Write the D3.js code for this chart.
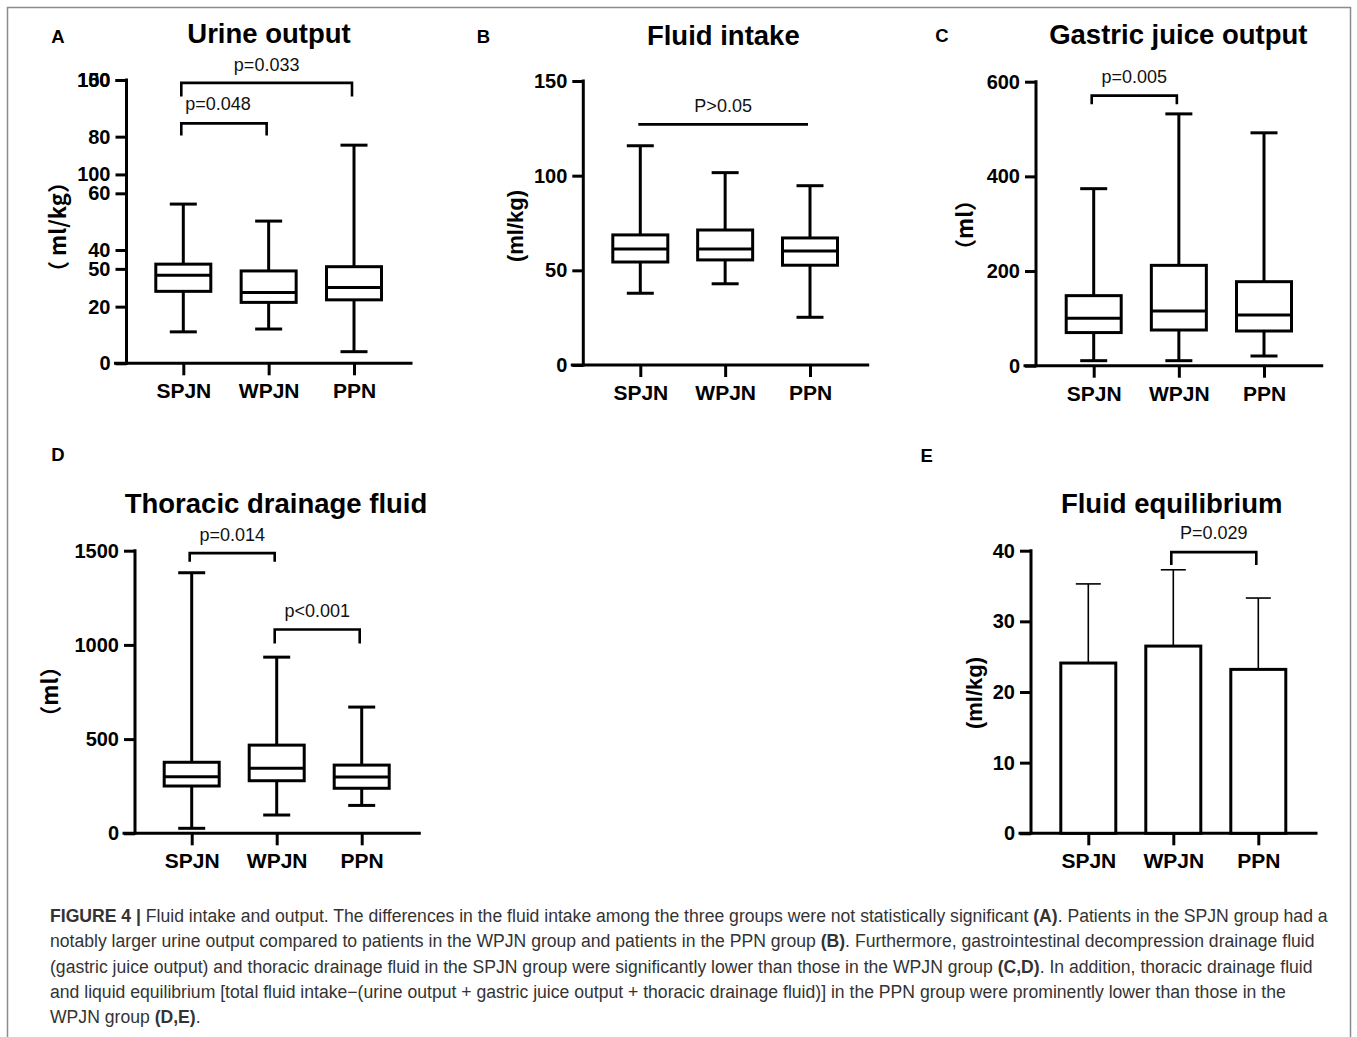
<!DOCTYPE html>
<html><head><meta charset="utf-8">
<script src="https://cdn.jsdelivr.net/npm/d3@7"></script>
<style>
html,body{margin:0;padding:0;background:#fff;}
svg{display:block;}
</style></head>
<body>
<svg id="fig" width="1357" height="1037"></svg>
<script>
// ---------------- DATA ----------------
const groups = ["SPJN", "WPJN", "PPN"];
// five-number summaries per group: [whisker low, Q1, median, Q3, whisker high]
const urineOutput   = [[11.1, 25.4, 31.1, 35.0, 56.2], [12.1, 21.5, 25.0, 32.6, 50.2], [4.1, 22.4, 26.8, 34.1, 77.0]];
const fluidIntake   = [[37.9, 54.4, 61.3, 68.7, 115.8], [42.9, 55.5, 61.3, 71.3, 101.6], [25.2, 52.7, 60.2, 67.1, 94.7]];
const gastricJuice  = [[10.6, 70, 100, 148, 374], [10.6, 75.4, 115.6, 212, 532], [20.5, 73.3, 107, 177.5, 492]];
const thoracicFluid = [[26.5, 251, 300, 377, 1383], [97, 279, 345, 468, 935], [148, 239, 299, 362, 670]];
// fluid equilibrium: mean and mean + SD
const equilibriumMean  = [24.1, 26.5, 23.2];
const equilibriumUpper = [35.3, 37.3, 33.3];
// tick labels
const urineTicksA = [0, 20, 40, 60, 80, 100];
const urineTicksB = [50, 100, 150];
const intakeTicks = [0, 50, 100, 150];
const gastricTicks = [0, 200, 400, 600];
const thoracicTicks = [0, 500, 1000, 1500];
const equilibriumTicks = [0, 10, 20, 30, 40];
// significance brackets: [fromGroup, toGroup, lineValue, legValue (null = no legs), labelValue, label]
const urineBrackets = [[0, 2, 99, 94.2, 103.3, "p=0.033"], [0, 1, 84.7, 80.4, 89.4, "p=0.048"]];
const intakeBrackets = [[0, 2, 127.1, null, 133.8, "P>0.05"]];
const gastricBrackets = [[0, 1, 570.5, 552.3, 598, "p=0.005"]];
const thoracicBrackets = [[0, 1, 1487, 1441, 1552.6, "p=0.014"], [1, 2, 1082, 1008, 1146, "p<0.001"]];
const equilibriumBrackets = [[1, 2, 39.8, 37.97, 41.6, "P=0.029"]];

// ---------------- DRAW ----------------
const svg = d3.select("#fig");
const FONT = "'Liberation Sans', Arial, Helvetica, sans-serif";
const CJK = "'Noto Sans CJK SC', 'Liberation Sans', sans-serif";

// frame
svg.append("path").attr("d", "M7.5,1040 V7.5 H1350.5 V1040")
  .attr("fill", "none").attr("stroke", "#8c8c8c").attr("stroke-width", 1.5);

function panel(cfg) {
  const g = svg.append("g");
  const y = d3.scaleLinear().domain([0, cfg.max]).range([cfg.yBottom, cfg.yTop]);
  const x = d3.scalePoint().domain(groups).range([cfg.catFirst, cfg.catLast]);
  const SW = 3;

  function styleAxis(a) {
    a.selectAll("path,line").attr("stroke", "#000").attr("stroke-width", SW);
    a.select(".domain").attr("stroke-linecap", "square");
    a.selectAll("text").attr("font-family", FONT).attr("font-weight", "bold")
      .attr("font-size", 20).attr("fill", "#000");
  }

  // y axis
  const yAxis = d3.axisLeft(y).tickValues(cfg.ticks).tickSize(11).tickPadding(5).tickFormat(d3.format("d"));
  const ya = g.append("g").attr("transform", `translate(${cfg.x0},0)`).call(yAxis);
  if (cfg.extraTicks) {
    const y2 = d3.scaleLinear().domain([0, cfg.extraMax]).range([cfg.yBottom, cfg.yTop]);
    const ya2 = g.append("g").attr("transform", `translate(${cfg.x0},0)`)
      .call(d3.axisLeft(y2).tickValues(cfg.extraTicks).tickSize(11).tickPadding(5).tickFormat(d3.format("d")));
    styleAxis(ya2);
    ya2.select(".domain").remove();
  }
  styleAxis(ya);
  ya.select(".domain").attr("d", `M0,${cfg.yBottom}V${cfg.yTop}`);

  // x axis
  const xa = g.append("g").attr("transform", `translate(0,${cfg.yBottom})`)
    .call(d3.axisBottom(x).tickSize(12).tickPadding(10));
  styleAxis(xa);
  xa.select(".domain").attr("d", `M${cfg.x0 - 11},0H${cfg.xEnd}`);
  xa.selectAll("text").attr("font-size", 21).attr("dy", "0.71em").attr("y", 20);

  // boxes
  if (cfg.boxes) {
    const bw = 55, cw = 27;
    cfg.boxes.forEach((s, i) => {
      const cx = x(groups[i]);
      const bg = g.append("g").attr("stroke", "#000").attr("stroke-width", SW).attr("fill", "none");
      bg.append("line").attr("x1", cx).attr("x2", cx).attr("y1", y(s[0])).attr("y2", y(s[1]));
      bg.append("line").attr("x1", cx).attr("x2", cx).attr("y1", y(s[3])).attr("y2", y(s[4]));
      bg.append("line").attr("x1", cx - cw / 2).attr("x2", cx + cw / 2).attr("y1", y(s[0])).attr("y2", y(s[0]));
      bg.append("line").attr("x1", cx - cw / 2).attr("x2", cx + cw / 2).attr("y1", y(s[4])).attr("y2", y(s[4]));
      bg.append("rect").attr("x", cx - bw / 2).attr("width", bw).attr("y", y(s[3])).attr("height", y(s[1]) - y(s[3])).attr("fill", "#fff");
      bg.append("line").attr("x1", cx - bw / 2).attr("x2", cx + bw / 2).attr("y1", y(s[2])).attr("y2", y(s[2]));
    });
  }
  // bars
  if (cfg.means) {
    const bw = 55, cw = 25;
    cfg.means.forEach((m, i) => {
      const cx = x(groups[i]);
      g.append("line").attr("x1", cx).attr("x2", cx).attr("y1", y(m)).attr("y2", y(cfg.upper[i]))
        .attr("stroke", "#000").attr("stroke-width", 1.6);
      g.append("line").attr("x1", cx - cw / 2).attr("x2", cx + cw / 2).attr("y1", y(cfg.upper[i])).attr("y2", y(cfg.upper[i]))
        .attr("stroke", "#000").attr("stroke-width", 1.6);
      g.append("rect").attr("x", cx - bw / 2).attr("width", bw).attr("y", y(m)).attr("height", y(0) - y(m))
        .attr("fill", "#fff").attr("stroke", "#000").attr("stroke-width", SW);
    });
  }
  // brackets
  (cfg.brackets || []).forEach(b => {
    const x1 = x(groups[b[0]]) - 2, x2 = x(groups[b[1]]) - 2;
    let d = b[3] == null ? `M${x1},${y(b[2])}H${x2}` : `M${x1},${y(b[3])}V${y(b[2])}H${x2}V${y(b[3])}`;
    g.append("path").attr("d", d).attr("fill", "none").attr("stroke", "#000").attr("stroke-width", 2.6);
    g.append("text").attr("x", (x1 + x2) / 2 + (cfg.labelDx ? cfg.labelDx[b[5]] || 0 : 0)).attr("y", y(b[4]))
      .attr("text-anchor", "middle").attr("font-family", FONT).attr("font-size", 18).attr("fill", "#111").text(b[5]);
  });
  // title
  g.append("text").attr("x", cfg.titleX).attr("y", cfg.titleY).attr("text-anchor", "middle")
    .attr("font-family", FONT).attr("font-weight", "bold").attr("font-size", 27.5).text(cfg.title);
  // panel letter
  g.append("text").attr("x", cfg.letterX).attr("y", cfg.letterY).attr("text-anchor", "middle")
    .attr("font-family", FONT).attr("font-weight", "bold").attr("font-size", 18.5).text(cfg.letter);
  // y label
  g.append("text").attr("transform", `translate(${cfg.ylabX},${cfg.ylabY}) rotate(-90)`)
    .attr("text-anchor", "middle").attr("dy", "0.35em")
    .attr("font-family", cfg.ylabCJK ? CJK : FONT).attr("font-weight", "bold").attr("font-size", 22)
    .text(cfg.ylab);
}

panel({letter: "A", letterX: 58, letterY: 42.5, title: "Urine output", titleX: 269, titleY: 43,
  x0: 126.5, xEnd: 411, yBottom: 363.3, yTop: 80, catFirst: 183.3, catLast: 354,
  max: 100, ticks: urineTicksA, extraTicks: urineTicksB, extraMax: 150,
  boxes: urineOutput, brackets: urineBrackets, labelDx: {"p=0.048": -6},
  ylab: "（ ml/kg）", ylabCJK: true, ylabX: 58, ylabY: 227});

panel({letter: "B", letterX: 483.5, letterY: 42.5, title: "Fluid intake", titleX: 723.3, titleY: 45,
  x0: 583.3, xEnd: 867.7, yBottom: 365, yTop: 81, catFirst: 640.3, catLast: 810,
  max: 150, ticks: intakeTicks, boxes: fluidIntake, brackets: intakeBrackets,
  ylab: "(ml/kg)", ylabX: 515, ylabY: 226});

panel({letter: "C", letterX: 942, letterY: 42, title: "Gastric juice output", titleX: 1178.3, titleY: 44,
  x0: 1036, xEnd: 1321.7, yBottom: 365.7, yTop: 81.7, catFirst: 1093.7, catLast: 1264,
  max: 600, ticks: gastricTicks, boxes: gastricJuice, brackets: gastricBrackets,
  ylab: "（ml）", ylabCJK: true, ylabX: 965, ylabY: 225});

panel({letter: "D", letterX: 58, letterY: 460.5, title: "Thoracic drainage fluid", titleX: 276, titleY: 513,
  x0: 135, xEnd: 419.3, yBottom: 833.3, yTop: 550.7, catFirst: 191.7, catLast: 361.7,
  max: 1500, ticks: thoracicTicks, boxes: thoracicFluid, brackets: thoracicBrackets,
  ylab: "（ml）", ylabCJK: true, ylabX: 50, ylabY: 691.7});

panel({letter: "E", letterX: 926.7, letterY: 461.5, title: "Fluid equilibrium", titleX: 1171.7, titleY: 513,
  x0: 1031, xEnd: 1316, yBottom: 833.3, yTop: 550.7, catFirst: 1088.3, catLast: 1258.3,
  max: 40, ticks: equilibriumTicks, means: equilibriumMean, upper: equilibriumUpper, brackets: equilibriumBrackets,
  ylab: "(ml/kg)", ylabX: 974, ylabY: 693});

// caption
const captionLines = [
  [["FIGURE 4 |", true], [" Fluid intake and output. The differences in the fluid intake among the three groups were not statistically significant ", false], ["(A)", true], [". Patients in the SPJN group had a", false]],
  [["notably larger urine output compared to patients in the WPJN group and patients in the PPN group ", false], ["(B)", true], [". Furthermore, gastrointestinal decompression drainage fluid", false]],
  [["(gastric juice output) and thoracic drainage fluid in the SPJN group were significantly lower than those in the WPJN group ", false], ["(C,D)", true], [". In addition, thoracic drainage fluid", false]],
  [["and liquid equilibrium [total fluid intake\u2212(urine output + gastric juice output + thoracic drainage fluid)] in the PPN group were prominently lower than those in the", false]],
  [["WPJN group ", false], ["(D,E)", true], [".", false]]
];
const cap = svg.append("g").attr("font-family", FONT).attr("font-size", 17.6).attr("fill", "#333");
captionLines.forEach((line, i) => {
  const t = cap.append("text").attr("x", 50).attr("y", 922 + i * 25.3).attr("xml:space", "preserve");
  line.forEach(([s, b]) => t.append("tspan").attr("font-weight", b ? "bold" : "normal").text(s));
});
</script>
</body></html>
